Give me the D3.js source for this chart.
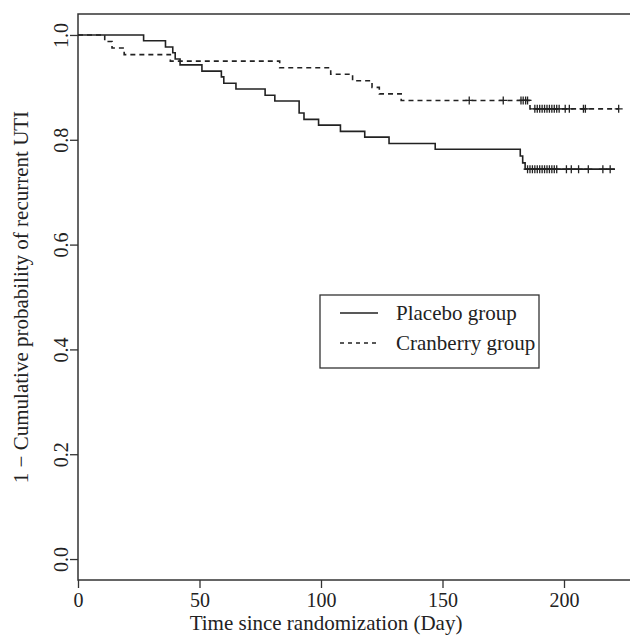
<!DOCTYPE html>
<html>
<head>
<meta charset="utf-8">
<script src="https://cdn.jsdelivr.net/npm/d3@7"></script>
<style>
  html, body { margin: 0; padding: 0; background: #fff; }
  svg { display: block; }
  text { font-family: "Liberation Serif", "DejaVu Serif", serif; fill: #222; }
</style>
</head>
<body>
<svg id="chart" width="630" height="635"></svg>
<script>
// ---- data ----
const placeboTimes = [0, 27, 36, 39, 40, 42, 51, 59, 60, 65, 77, 81, 91, 93, 99, 108, 118, 128, 147, 182, 183, 184];
const placeboSurv  = [1.000, 0.989, 0.977, 0.966, 0.954, 0.943, 0.931, 0.920, 0.908, 0.897, 0.885, 0.874, 0.851, 0.839, 0.828, 0.816, 0.805, 0.793, 0.782, 0.769, 0.756, 0.744];
const placeboEnd = 221;
const placeboCensor = [185, 186, 187, 188, 189, 190, 191, 192, 193, 194, 195, 196, 197, 201, 203, 206, 210, 216, 219];

const cranTimes = [0, 11, 14, 19, 38, 83, 104, 113, 121, 124, 133, 186];
const cranSurv  = [1.000, 0.9875, 0.975, 0.9625, 0.950, 0.9375, 0.925, 0.9125, 0.900, 0.8875, 0.875, 0.859];
const cranEnd = 222.5;
const cranCensor = [161, 175, 182.3, 183.2, 184.2, 185, 188, 189, 190, 191, 192, 193, 194, 195, 196, 197, 198, 200.5, 202.2, 208, 208.8, 222.5];

const xTicks = [0, 50, 100, 150, 200];
const yTicks = [0.0, 0.2, 0.4, 0.6, 0.8, 1.0];
const seriesNames = ["Placebo group", "Cranberry group"];
const xTitle = "Time since randomization (Day)";
const yTitle = "1 \u2212 Cumulative probability of recurrent UTI";

// ---- layout ----
const svg = d3.select("#chart");
const mLeft = 78, mRight = 640, mTop = 14, mBottom = 580;
const x = d3.scaleLinear().domain([0, (mRight - mLeft) / 2.43]).range([mLeft, mRight]);
const y = d3.scaleLinear().domain([-0.04, 1.04]).range([mBottom, mTop]);
const ink = "#222";

// box
svg.append("rect")
  .attr("x", mLeft).attr("y", mTop)
  .attr("width", mRight - mLeft).attr("height", mBottom - mTop)
  .attr("fill", "none").attr("stroke", "#333").attr("stroke-width", 1.5);

// x axis
const xAxis = d3.axisBottom(x).tickValues(xTicks).tickSize(8).tickPadding(5).tickFormat(d3.format("d"));
const gx = svg.append("g").attr("transform", `translate(0,${mBottom})`).call(xAxis);
gx.select(".domain").remove();
gx.selectAll(".tick line").attr("stroke", "#333").attr("stroke-width", 1.3);
gx.selectAll(".tick text").attr("font-size", 20).attr("fill", ink)
  .attr("font-family", "Liberation Serif, serif");

// y axis
const yAxis = d3.axisLeft(y).tickValues(yTicks).tickSize(8).tickFormat(d3.format(".1f"));
const gy = svg.append("g").attr("transform", `translate(${mLeft},0)`).call(yAxis);
gy.select(".domain").remove();
gy.selectAll(".tick line").attr("stroke", "#333").attr("stroke-width", 1.3);
gy.selectAll(".tick text")
  .attr("font-size", 20).attr("fill", ink)
  .attr("font-family", "Liberation Serif, serif")
  .attr("x", null).attr("dy", null)
  .attr("text-anchor", "middle")
  .attr("transform", "translate(-10,0) rotate(-90)");

// titles
svg.append("text").attr("x", 326).attr("y", 630)
  .attr("text-anchor", "middle").attr("font-size", 21).text(xTitle);
svg.append("text")
  .attr("transform", `translate(28,${(mTop + mBottom) / 2}) rotate(-90)`)
  .attr("text-anchor", "middle").attr("font-size", 21).text(yTitle);

// curves
function survAt(times, surv, t) {
  const i = d3.bisectRight(times, t) - 1;
  return surv[Math.max(0, i)];
}
const line = d3.line().x(d => x(d[0])).y(d => y(d[1])).curve(d3.curveStepAfter);

function drawCurve(times, surv, end, censor, dash) {
  const pts = times.map((t, i) => [t, surv[i]]);
  pts.push([end, surv[surv.length - 1]]);
  svg.append("path").datum(pts)
    .attr("d", line).attr("fill", "none")
    .attr("stroke", ink).attr("stroke-width", 1.6)
    .attr("stroke-dasharray", dash);
  const s = 4;
  svg.append("g").selectAll("path").data(censor).join("path")
    .attr("d", t => {
      const cx = x(t), cy = y(survAt(times, surv, t));
      return `M${cx - s},${cy}H${cx + s}M${cx},${cy - s}V${cy + s}`;
    })
    .attr("stroke", ink).attr("stroke-width", 1.3).attr("fill", "none");
}
drawCurve(placeboTimes, placeboSurv, placeboEnd, placeboCensor, null);
drawCurve(cranTimes, cranSurv, cranEnd, cranCensor, "5,4");

// legend
const lg = svg.append("g");
lg.append("rect").attr("x", 320).attr("y", 295).attr("width", 219).attr("height", 73)
  .attr("fill", "#fff").attr("stroke", "#333").attr("stroke-width", 1.3);
const dashes = [null, "4,4"];
seriesNames.forEach((name, i) => {
  const ly = 313 + i * 30;
  lg.append("line").attr("x1", 340).attr("x2", 378).attr("y1", ly).attr("y2", ly)
    .attr("stroke", ink).attr("stroke-width", 1.3).attr("stroke-dasharray", dashes[i]);
  lg.append("text").attr("x", 396).attr("y", ly + 7).attr("font-size", 21).text(name);
});
</script>
</body>
</html>
